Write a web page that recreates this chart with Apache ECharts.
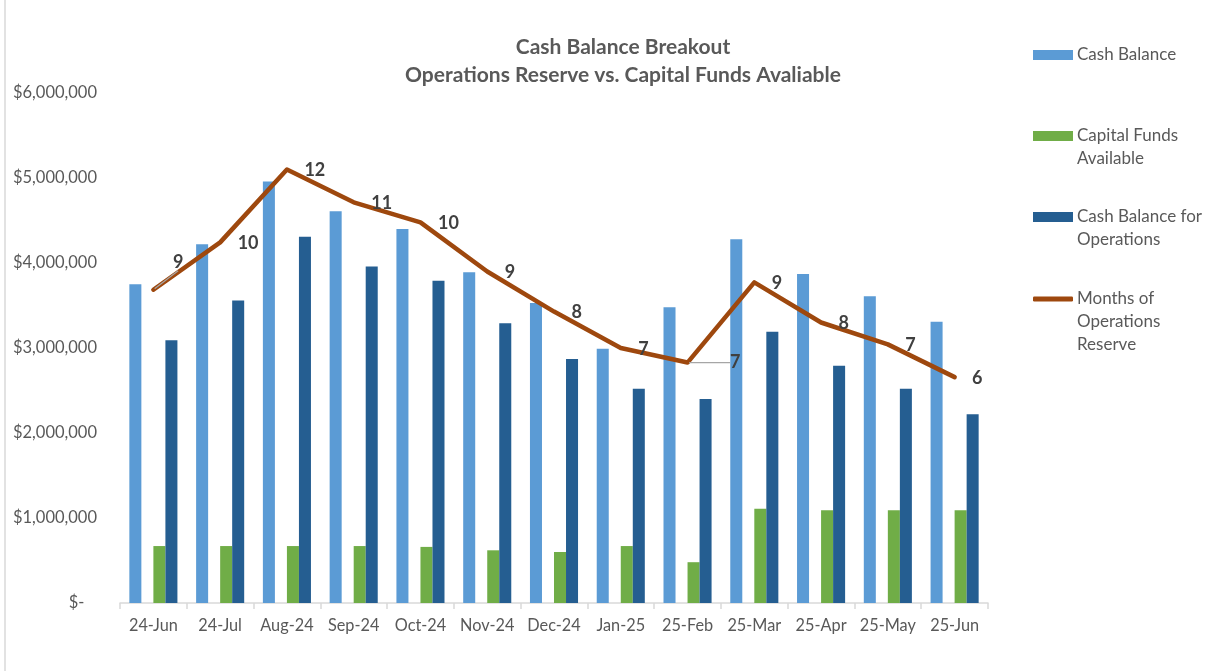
<!DOCTYPE html>
<html>
<head>
<meta charset="utf-8">
<script src="https://cdn.jsdelivr.net/npm/echarts@6/dist/echarts.min.js"></script>
<style>
html,body{margin:0;padding:0;background:#fff;}
#chart{width:1222px;height:671px;}
</style>
</head>
<body>
<div id="chart"></div>
<script>
const categories = ['24-Jun','24-Jul','Aug-24','Sep-24','Oct-24','Nov-24','Dec-24','Jan-25','25-Feb','25-Mar','25-Apr','25-May','25-Jun'];
const cashBalance = [3750000,4220000,4960000,4610000,4400000,3890000,3530000,2990000,3480000,4280000,3870000,3610000,3310000];
const capitalFunds = [670000,670000,670000,670000,660000,620000,600000,670000,480000,1110000,1090000,1090000,1090000];
const cashForOps = [3090000,3560000,4310000,3960000,3790000,3290000,2870000,2520000,2400000,3190000,2790000,2520000,2220000];
const monthsReserve = [8.6,9.9,11.9,11.0,10.45,9.1,8.0,7.0,6.6,8.8,7.7,7.1,6.2];
const yTicks = [0,1000000,2000000,3000000,4000000,5000000,6000000];

const FONT = 'Lato, "Open Sans", sans-serif';
const TXT = '#595959';

const chart = echarts.init(document.getElementById('chart'), null, {renderer:'canvas'});

function legendFor(name, top, fmt, icon, h) {
  return {
    show: true, orient: 'vertical', left: 1033, top: top, padding: 0,
    itemWidth: 40, itemHeight: h, itemGap: 0,
    data: [{name: name, icon: icon}],
    formatter: function(){ return fmt; },
    textStyle: {color: TXT, fontSize: 17, fontFamily: FONT, lineHeight: 23, padding:[0,0,0,-1]},
    selectedMode: false
  };
}

const option = {
  animation: false,
  backgroundColor: '#ffffff',
  title: {
    text: 'Cash Balance Breakout\nOperations Reserve vs. Capital Funds Avaliable',
    left: 618, top: 28, textAlign: 'center',
    textStyle: {fontFamily: FONT, fontSize: 21, fontWeight: 'bold', color: TXT, lineHeight: 28}
  },
  legend: [
    legendFor('Cash Balance', 43.5, 'Cash Balance', 'rect', 10),
    legendFor('Capital Funds Available', 101.5, '\nCapital Funds\nAvailable', 'rect', 10),
    legendFor('Cash Balance for Operations', 182.5, '\nCash Balance for\nOperations', 'rect', 10),
    legendFor('Months of Operations Reserve', 241.5, '\n\nMonths of\nOperations\nReserve', 'roundRect', 5)
  ],
  grid: {left: 120, right: 234, top: 93, bottom: 68, containLabel: false},
  xAxis: {
    type: 'category', data: categories, boundaryGap: true,
    axisLine: {show: true, lineStyle: {color: '#D9D9D9', width: 1.5}},
    axisTick: {show: true, length: 6, interval: 0, lineStyle: {color: '#D9D9D9', width: 1.5}, alignWithLabel: false},
    axisLabel: {color: TXT, fontSize: 16.3, fontFamily: FONT, margin: 15, interval: 0}
  },
  yAxis: [
    {
      type: 'value', min: 0, max: 6000000, interval: 1000000,
      axisLine: {show: false}, axisTick: {show: false}, splitLine: {show: false},
      axisLabel: {
        color: TXT, fontSize: 16.5, fontFamily: FONT, margin: 23,
        formatter: function(v){ return v === 0 ? '$-   ' : '$' + v.toLocaleString('en-US'); }
      }
    },
    {
      type: 'value', min: 0, max: 14, show: false,
      axisLine: {show: false}, axisTick: {show: false}, splitLine: {show: false}, axisLabel: {show: false}
    }
  ],
  series: [
    {
      name: 'Cash Balance', type: 'bar', data: cashBalance,
      barGap: '0%', barCategoryGap: '28%',
      itemStyle: {color: '#5B9BD5'}
    },
    {
      name: 'spacer', type: 'bar', data: categories.map(function(){ return null; }),
      itemStyle: {color: 'rgba(0,0,0,0)'}, silent: true
    },
    {
      name: 'Capital Funds Available', type: 'bar', data: capitalFunds,
      itemStyle: {color: '#70AD47'}
    },
    {
      name: 'Cash Balance for Operations', type: 'bar', data: cashForOps,
      itemStyle: {color: '#255E91'}
    },
    {
      name: 'Months of Operations Reserve', type: 'line', yAxisIndex: 1,
      data: monthsReserve.map(function(v, i){
        if (i === 0 || i === 8) return {value: v, labelLine: {show: true, lineStyle: {color: '#A6A6A6', width: 1.2}}};
        return v;
      }),
      symbol: 'circle', symbolSize: 3, showSymbol: true,
      lineStyle: {color: '#9E480E', width: 4.5, cap: 'round', join: 'round'},
      itemStyle: {color: '#9E480E'},
      label: {
        show: true, position: 'right', distance: 16,
        formatter: function(p){ return Math.round(p.value); },
        color: '#404040', fontSize: 18, fontWeight: 'bold', fontFamily: FONT
      },
      labelLayout: function(p){
        if (p.dataIndex === 0) return {dy: -28, dx: 2};
        if (p.dataIndex === 8) return {dx: 25};
        return {dy: 1};
      },
      z: 5
    }
  ],
  graphic: [
    {type: 'line', shape: {x1: 5, y1: 0, x2: 5, y2: 671}, style: {stroke: '#D9D9D9', lineWidth: 1.5}, silent: true}
  ]
};

chart.setOption(option);
</script>
</body>
</html>
